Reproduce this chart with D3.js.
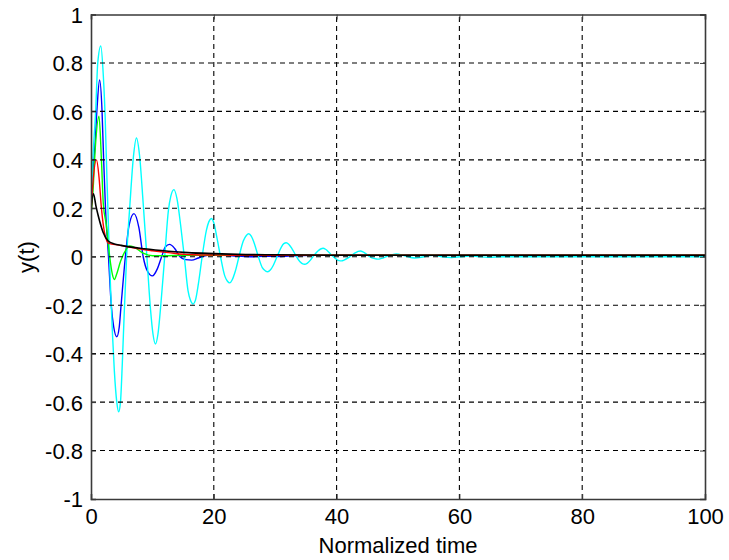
<!DOCTYPE html>
<html>
<head>
<meta charset="utf-8">
<script src="https://cdn.jsdelivr.net/npm/d3@7"></script>
<style>
  html, body { margin: 0; padding: 0; background: #fff; }
  svg { display: block; }
  text { font-family: "Liberation Sans", Arial, sans-serif; fill: #000; }
</style>
</head>
<body>
<script>
// ---------- data ----------
const xTicks = [0, 20, 40, 60, 80, 100];
const yTicks = [-1, -0.8, -0.6, -0.4, -0.2, 0, 0.2, 0.4, 0.6, 0.8, 1];
const xLabel = "Normalized time";
const yLabel = "y(t)";

const cyanT = [0,0.3,0.76,1.1,1.6,2.0,2.3,2.6,2.9,3.2,3.5,3.8,4.2,4.5,4.8,5.1,5.4,5.8,6.35,6.9,7.4,7.9,8.5,9.1,9.7,10.1,10.5,10.9,11.4,12.0,12.6,13.0,13.5,14.0,14.6,15.2,15.8,16.2,16.6,17.0,17.5,18.1,18.8,19.2,19.6,20.0,20.5,21.1,21.8,22.2,22.6,23.0,23.5,24.1,24.8,25.3,25.7,26.1,26.6,27.2,27.9,28.4,28.8,29.2,29.7,30.3,31.0,31.4,31.8,32.2,32.7,33.3,34.0,34.4,34.8,35.2,35.7,36.3,37.0,37.4,37.8,38.2,38.7,39.3,40.0,40.4,40.8,41.2,41.8,42.4,43.1,43.5,43.9,44.3,44.8,45.4,46.2,46.7,47.3,48.4,49.7,51.2,52.7,54.2,55.7,57.2,58.7,60.2,61.7,63.2,64.7,67,100];
const cyanY = [0.20,0.40,0.60,0.80,0.87,0.75,0.58,0.32,0.08,-0.14,-0.32,-0.47,-0.60,-0.64,-0.60,-0.44,-0.24,0.0,0.22,0.41,0.49,0.42,0.22,0.0,-0.22,-0.32,-0.36,-0.32,-0.19,0.0,0.19,0.25,0.277,0.24,0.13,0.0,-0.14,-0.18,-0.195,-0.18,-0.11,0.0,0.11,0.145,0.158,0.14,0.08,0.0,-0.08,-0.10,-0.108,-0.095,-0.06,0.0,0.065,0.088,0.095,0.085,0.055,0.005,-0.045,-0.058,-0.062,-0.055,-0.035,0.0,0.04,0.054,0.058,0.052,0.035,0.008,-0.02,-0.028,-0.031,-0.027,-0.015,0.005,0.025,0.032,0.035,0.031,0.02,0.004,-0.011,-0.016,-0.017,-0.014,-0.006,0.005,0.017,0.022,0.024,0.02,0.012,0.0,-0.008,-0.010,-0.007,0.004,0.012,0.003,-0.005,0.0,0.006,0.0,-0.003,0.0,0.003,0.0,-0.002,0,0];

const blueT = [0,0.6,1.0,1.4,1.8,2.06,2.36,2.85,3.3,3.7,4.2,4.6,4.9,5.6,6.2,7.0,7.8,8.5,9.2,10.0,10.8,11.5,12.1,12.8,13.6,14.5,15.4,16.4,17.5,19,21,23,26,28,31,33,36,100];
const blueY = [0.30,0.44,0.62,0.73,0.60,0.40,0.20,0.0,-0.20,-0.29,-0.33,-0.29,-0.20,0.0,0.13,0.178,0.12,0.0,-0.06,-0.079,-0.05,0.0,0.04,0.051,0.035,0.0,-0.012,-0.014,-0.005,0.006,0.007,0.004,0.0,0.002,0.001,0.004,0.006,0.006];

const greenT = [0,0.3,0.7,1.3,1.7,2.0,2.5,2.9,3.2,3.5,3.8,4.2,4.8,5.5,6.3,7.0,8.5,10,12,15,100];
const greenY = [0.17,0.26,0.45,0.58,0.40,0.22,0.13,0.03,-0.03,-0.075,-0.094,-0.07,-0.02,0.02,0.045,0.04,0.015,0.004,0.004,0.006,0.006];

const redT = [0,0.3,0.9,1.3,1.7,2.2,2.9,4.5,7.7,10,12.6,16.4,20,24,100];
const redY = [0.17,0.30,0.40,0.33,0.20,0.10,0.055,0.048,0.033,0.025,0.017,0.008,0.007,0.006,0.006];

const blackT = [0,0.4,0.8,1.2,2,2.8,3.8,4.9,8.7,12.6,15.8,20,23.9,30,40,100];
const blackY = [0.20,0.26,0.21,0.167,0.099,0.065,0.053,0.047,0.033,0.023,0.017,0.013,0.010,0.008,0.006,0.006];

// drawing order: first drawn is at the bottom
const seriesNames = ["blue", "cyan", "green", "red", "black"];
const seriesColors = ["#0000ff", "#00ffff", "#00ff00", "#ff0000", "#000000"];
const seriesT = [blueT, cyanT, greenT, redT, blackT];
const seriesY = [blueY, cyanY, greenY, redY, blackY];

// ---------- layout ----------
const W = 729, H = 560;
const mLeft = 91, mRight = 705, mTop = 14.5, mBottom = 499;
const fontSize = 22;

const svg = d3.select("body").append("svg").attr("width", W).attr("height", H);
svg.append("rect").attr("width", W).attr("height", H).attr("fill", "#fff");

const x = d3.scaleLinear().domain([0, 100]).range([mLeft, mRight]);
const y = d3.scaleLinear().domain([-1, 1]).range([mBottom, mTop]);

svg.append("defs").append("clipPath").attr("id", "clip")
  .append("rect").attr("x", mLeft).attr("y", mTop).attr("width", mRight - mLeft).attr("height", mBottom - mTop);

// curves
const line = d3.line().x(d => x(d[0])).y(d => y(d[1])).curve(d3.curveMonotoneX);
const gLines = svg.append("g").attr("clip-path", "url(#clip)");
seriesNames.forEach((n, i) => {
  const pts = seriesT[i].map((t, k) => [t, seriesY[i][k]]);
  gLines.append("path").datum(pts)
    .attr("d", line)
    .attr("fill", "none")
    .attr("stroke", seriesColors[i])
    .attr("stroke-width", n === "black" ? 1.6 : 1.4)
    .attr("stroke-linejoin", "round");
});

// grid (dashed, drawn on top as in the reference)
const grid = svg.append("g");
xTicks.slice(1, -1).forEach(t => {
  grid.append("line").attr("x1", x(t)).attr("x2", x(t)).attr("y1", mBottom).attr("y2", mTop)
    .attr("stroke", "#000").attr("stroke-width", 1.1).attr("stroke-dasharray", "5,4");
});
yTicks.slice(1, -1).forEach(t => {
  grid.append("line").attr("x1", mLeft).attr("x2", mRight).attr("y1", y(t)).attr("y2", y(t))
    .attr("stroke", "#000").attr("stroke-width", 1.1).attr("stroke-dasharray", "5,4");
});

// axes via d3 axis generators (ticks inward, all four sides)
const tickLen = 5;
const axB = svg.append("g").attr("transform", `translate(0,${mBottom})`)
  .call(d3.axisBottom(x).tickValues(xTicks).tickSize(-tickLen).tickPadding(10).tickFormat(d3.format("d")));
const axT = svg.append("g").attr("transform", `translate(0,${mTop})`)
  .call(d3.axisTop(x).tickValues(xTicks).tickSize(-tickLen).tickFormat(""));
const axL = svg.append("g").attr("transform", `translate(${mLeft},0)`)
  .call(d3.axisLeft(y).tickValues(yTicks).tickSize(-tickLen).tickPadding(8).tickFormat(d => String(d)));
const axR = svg.append("g").attr("transform", `translate(${mRight},0)`)
  .call(d3.axisRight(y).tickValues(yTicks).tickSize(-tickLen).tickFormat(""));

[axB, axT, axL, axR].forEach(a => {
  a.select(".domain").attr("stroke", "#3a3a3a").attr("stroke-width", 1.6);
  a.selectAll(".tick line").attr("stroke", "#3a3a3a").attr("stroke-width", 1);
  a.selectAll("text").attr("font-size", fontSize).attr("font-family", "'Liberation Sans', Arial, sans-serif").attr("fill", "#000");
});
axL.selectAll("text").attr("dy", "0.36em");
axB.selectAll("text").attr("dy", "0.7em");

// axis titles
svg.append("text").attr("x", (mLeft + mRight) / 2).attr("y", 553)
  .attr("text-anchor", "middle").attr("font-size", fontSize).text(xLabel);
svg.append("text").attr("transform", `translate(34,257) rotate(-90)`)
  .attr("text-anchor", "middle").attr("font-size", fontSize).text(yLabel);
</script>
</body>
</html>
